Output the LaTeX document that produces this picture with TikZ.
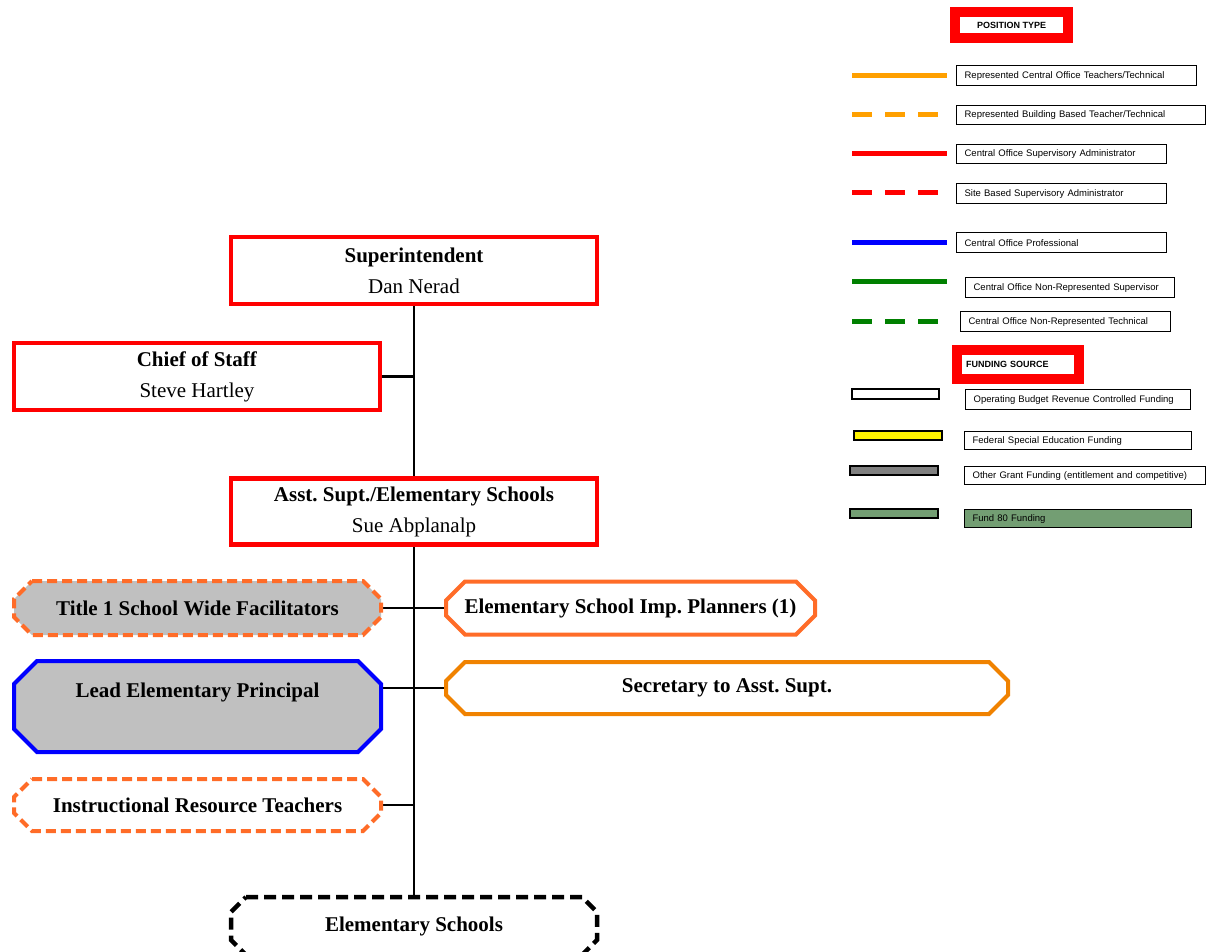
\documentclass[tikz,border=0pt]{standalone}
\usepackage{fontspec}
\setmainfont{Liberation Serif}
\newfontfamily\arial{Liberation Sans}
\usetikzlibrary{calc,backgrounds}
\frenchspacing
\definecolor{boxred}{RGB}{255,0,0}
\definecolor{dorange}{RGB}{255,108,40}
\definecolor{secorange}{RGB}{240,130,0}
\definecolor{legorange}{RGB}{255,160,0}
\definecolor{leggreen}{RGB}{0,128,0}
\definecolor{fundgreen}{RGB}{115,158,115}
\definecolor{boxgray}{RGB}{192,192,192}
\definecolor{leggray}{RGB}{128,128,128}
\newcommand\octbox[3]{%
  \path[#3] ($(#1.north west)+(#2,0)$) -- ($(#1.north east)+(-#2,0)$)
    -- ($(#1.north east)+(0,#2)$) -- ($(#1.south east)+(0,-#2)$)
    -- ($(#1.south east)+(-#2,0)$) -- ($(#1.south west)+(#2,0)$)
    -- ($(#1.south west)+(0,-#2)$) -- ($(#1.north west)+(0,#2)$) -- cycle;}
\tikzset{
  redbox/.style={draw=boxred, line width=4.8pt, rectangle, fill=white, align=center,
    font=\fontsize{21}{31}\selectfont, inner sep=0pt},
  octnode/.style={rectangle, inner sep=0pt, outer sep=0pt, font=\fontsize{21}{25}\selectfont\bfseries},
  octline/.style={line width=4pt, line join=miter},
  conn/.style={draw=black, line width=2.4pt},
  legbox/.style={draw=black, line width=1.2pt, anchor=north west, inner xsep=8pt, inner ysep=0pt,
    align=left, font=\arial\fontsize{9.5}{11}\selectfont},
  headbox/.style={draw=boxred, line width=10pt, fill=white, inner sep=0pt,
    font=\arial\bfseries\fontsize{9}{11}\selectfont},
  legline/.style={line width=5pt},
  legdash/.style={line width=5pt, dash pattern=on 20pt off 13pt},
  legrect/.style={draw=black, line width=1.2pt}
}
\begin{document}
\begin{tikzpicture}[x=1pt, y=-1pt]
\useasboundingbox (0,0) rectangle (1212,951);

% main chart
\node[redbox, minimum width=366, minimum height=67] (sup) at (414,270.5)
  {\textbf{Superintendent}\\Dan Nerad};
\node[redbox, minimum width=366, minimum height=67] (chief) at (197,376.5)
  {\textbf{Chief of Staff}\\Steve Hartley};
\node[redbox, minimum width=366, minimum height=66] (asst) at (414,511.5)
  {\textbf{Asst. Supt./Elementary Schools}\\Sue Abplanalp};
\node[octnode, minimum width=367, minimum height=54] (title) at (197.5,608) {Title 1 School Wide Facilitators};
\node[octnode, minimum width=369, minimum height=53] (imp) at (630.5,608) {Elementary School Imp. Planners (1)};
\node[octnode, minimum width=367, minimum height=91] (lead) at (197.5,706.5) {};
\node[octnode, anchor=center] (leadtext) at (197.5,692) {Lead Elementary Principal};
\node[octnode, minimum width=562, minimum height=52] (sec) at (727,688) {Secretary to Asst. Supt.};
\node[octnode, minimum width=367, minimum height=52] (irt) at (197.5,805) {Instructional Resource Teachers};
\node[octnode, minimum width=366, minimum height=58] (elem) at (414,926) {Elementary Schools};

\begin{scope}[on background layer]
% connectors
\draw[conn] (sup.south) -- (elem.north);
\draw[conn] (chief.east) -- (chief.east -| sup.south);
\draw[conn] (title.east) -- (title.east -| sup.south);
\draw[conn] (imp.west -| sup.south) -- (imp.west);
\draw[conn] (lead.east |- sec.west) -- (sec.west);
\draw[conn] (irt.east) -- (irt.east -| sup.south);
% chamfered boxes
\octbox{title}{18}{octline, draw=dorange, fill=boxgray, dash pattern=on 10pt off 5pt}
\octbox{imp}{19}{octline, draw=dorange, fill=white}
\octbox{lead}{23}{octline, draw=blue, fill=boxgray}
\octbox{sec}{19}{octline, draw=secorange, fill=white}
\octbox{irt}{18}{octline, draw=dorange, fill=white, dash pattern=on 10pt off 5pt}
\octbox{elem}{15}{octline, line width=4.5pt, draw=black, fill=white, dash pattern=on 12pt off 6pt}
\end{scope}

% legend: position type
\node[headbox, minimum width=113, minimum height=26] (ptype) at (1011.5,25) {POSITION TYPE};

\draw[legline, legorange] (852,75) -- (947,75);
\node[legbox, text width=224, minimum height=20] (l1) at (956,65) {Represented Central Office Teachers/Technical};
\draw[legdash, legorange] (852,114) -- (939,114);
\node[legbox, text width=233, minimum height=19] (l2) at (956,105) {Represented Building Based Teacher/Technical};
\draw[legline, boxred] (852,153) -- (947,153);
\node[legbox, text width=194, minimum height=19] (l3) at (956,144) {Central Office Supervisory Administrator};
\draw[legdash, boxred] (852,192) -- (939,192);
\node[legbox, text width=194, minimum height=20] (l4) at (956,183) {Site Based Supervisory Administrator};
\draw[legline, blue] (852,242) -- (947,242);
\node[legbox, text width=194, minimum height=20] (l5) at (956,232) {Central Office Professional};
\draw[legline, leggreen] (852,281) -- (947,281);
\node[legbox, text width=193, minimum height=20] (l6) at (965,277) {Central Office Non-Represented Supervisor};
\draw[legdash, leggreen] (852,321) -- (939,321);
\node[legbox, text width=194, minimum height=20] (l7) at (960,311) {Central Office Non-Represented Technical};

% legend: funding source
\node[headbox, minimum width=122, minimum height=29, text width=104, inner xsep=9pt, align=left]
  (fsrc) at (1018,364.5) {FUNDING SOURCE};
\draw[legrect, fill=white] (852,389) rectangle (939,399);
\node[legbox, text width=209, minimum height=20] (f1) at (965,389) {Operating Budget Revenue Controlled Funding};
\draw[legrect, fill=yellow] (854,431) rectangle (942,440);
\node[legbox, text width=211, minimum height=18] (f2) at (964,431) {Federal Special Education Funding};
\draw[legrect, fill=leggray] (850,466) rectangle (938,475);
\node[legbox, text width=225, minimum height=18] (f3) at (964,466) {Other Grant Funding (entitlement and competitive)};
\draw[legrect, fill=fundgreen] (850,509) rectangle (938,518);
\node[legbox, fill=fundgreen, text width=211, minimum height=18] (f4) at (964,509) {Fund 80 Funding};
\end{tikzpicture}
\end{document}
